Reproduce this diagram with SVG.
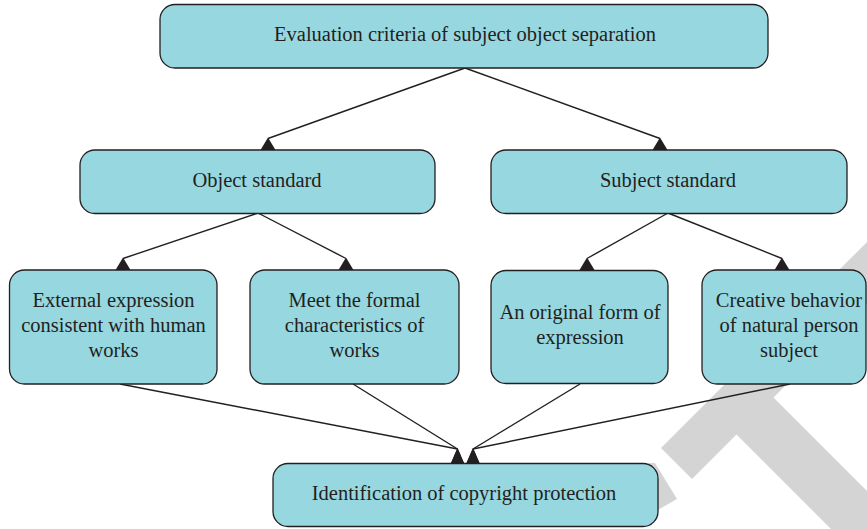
<svg xmlns="http://www.w3.org/2000/svg" width="867" height="529" viewBox="0 0 867 529">
  <defs>
    <style>
      .box { fill: #97d7e0; stroke: #231f20; stroke-width: 1.3; }
      .lbl { font-family: "Liberation Serif", "Times New Roman", serif; font-size: 20.5px; fill: #231f20; text-anchor: middle; }
      .wm { fill: #d4d4d4; }
      #connectors line { stroke: #231f20; stroke-width: 1.4; fill: none; marker-end: url(#head); }
      #connectors line.tall { marker-end: url(#head-tall); }
    </style>
    <!-- upright triangular heads sitting on the target box's top edge -->
    <marker id="head" markerUnits="userSpaceOnUse" markerWidth="20" markerHeight="20" refX="10" refY="1" orient="0" viewBox="0 0 20 20">
      <path d="M10,0 L17.5,12.5 L2.5,12.5 Z" fill="#231f20"/>
    </marker>
    <marker id="head-tall" markerUnits="userSpaceOnUse" markerWidth="20" markerHeight="20" refX="10" refY="1" orient="0" viewBox="0 0 20 20">
      <path d="M10,0 L16.5,15 L3.5,15 Z" fill="#231f20"/>
    </marker>
  </defs>

  <rect width="867" height="529" fill="#ffffff"/>

  <!-- grey background mark -->
  <g id="backmark">
    <polygon class="wm" points="661,448 1004.5,104.5 1035.5,135.5 773.5,397.5 988,612 951,649 736.5,434.5 692,479"/>
    <polygon class="wm" points="648,463 655,463 677,499 656,511 648,511"/>
  </g>

  <!-- connectors -->
  <g id="connectors">
    <line x1="465" y1="68" x2="268" y2="138.5"/>
    <line x1="465" y1="68" x2="660" y2="138.5"/>
    <line x1="258" y1="213" x2="123" y2="258.5"/>
    <line x1="258" y1="213" x2="346" y2="258.5"/>
    <line x1="668" y1="213" x2="587" y2="258.5"/>
    <line x1="668" y1="213" x2="782" y2="258.5"/>
    <line class="tall" x1="120" y1="384" x2="457.5" y2="449"/>
    <line class="tall" x1="353" y1="384" x2="457.5" y2="449"/>
    <line class="tall" x1="580" y1="384" x2="473" y2="449"/>
    <line class="tall" x1="790" y1="384" x2="473" y2="449"/>
  </g>

  <g id="n-evaluation">
    <rect class="box" x="160" y="4.5" width="608" height="63.5" rx="15"/>
    <text class="lbl" x="465" y="41">Evaluation criteria of subject object separation</text>
  </g>

  <g id="n-object">
    <rect class="box" x="80" y="150" width="355" height="63.5" rx="15"/>
    <text class="lbl" x="257" y="187">Object standard</text>
  </g>

  <g id="n-subject">
    <rect class="box" x="491" y="150" width="356" height="63.5" rx="15"/>
    <text class="lbl" x="668" y="187">Subject standard</text>
  </g>

  <g id="n-external">
    <rect class="box" x="9.5" y="270" width="207.5" height="114" rx="15"/>
    <text class="lbl" x="113.5" y="307">External expression</text>
    <text class="lbl" x="113.5" y="332">consistent with human</text>
    <text class="lbl" x="113.5" y="357">works</text>
  </g>

  <g id="n-formal">
    <rect class="box" x="250" y="270" width="209" height="114" rx="15"/>
    <text class="lbl" x="354.5" y="307">Meet the formal</text>
    <text class="lbl" x="354.5" y="332">characteristics of</text>
    <text class="lbl" x="354.5" y="357">works</text>
  </g>

  <g id="n-original">
    <rect class="box" x="491" y="270.5" width="177" height="113" rx="15"/>
    <text class="lbl" x="580" y="319">An original form of</text>
    <text class="lbl" x="580" y="344">expression</text>
  </g>

  <g id="n-creative">
    <rect class="box" x="702" y="270" width="164" height="114" rx="15"/>
    <text class="lbl" x="789" y="307">Creative behavior</text>
    <text class="lbl" x="789" y="332">of natural person</text>
    <text class="lbl" x="789" y="357">subject</text>
  </g>

  <g id="n-identification">
    <rect class="box" x="273" y="463.5" width="385" height="63" rx="15"/>
    <text class="lbl" x="464" y="500">Identification of copyright protection</text>
  </g>
</svg>
